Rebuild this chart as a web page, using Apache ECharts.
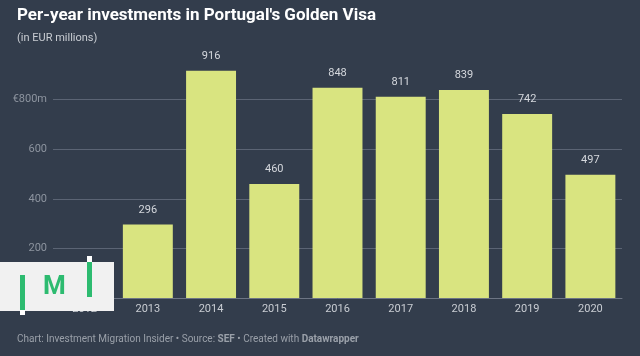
<!DOCTYPE html>
<html><head><meta charset="utf-8">
<script src="https://cdn.jsdelivr.net/npm/echarts@6/dist/echarts.min.js"></script>
<style>html,body{margin:0;padding:0;background:#333d4c;}#c{width:640px;height:356px;}</style>
</head><body><div id="c"></div>
<script>
const years = ['2012','2013','2014','2015','2016','2017','2018','2019','2020'];
const investments = [2, 296, 916, 460, 848, 811, 839, 742, 497];
const yTicks = [0, 200, 400, 600, 800];

const chart = echarts.init(document.getElementById('c'), null, {renderer:'canvas'});
const F = 'Roboto, sans-serif';
chart.setOption({
  backgroundColor: '#333d4c',
  animation: false,
  title: [
    {text: "Per-year investments in Portugal's Golden Visa", left: 17, top: 7, padding: 0,
     textStyle: {color: '#ffffff', fontFamily: F, fontWeight: 'bold', fontSize: 17}},
    {text: '(in EUR millions)', left: 17, top: 33, padding: 0,
     textStyle: {color: '#c9cdd3', fontFamily: F, fontWeight: 'normal', fontSize: 11}}
  ],
  grid: {left: 53, right: 18, top: 50, bottom: 58, containLabel: false},
  xAxis: {
    type: 'category', data: years,
    axisLine: {show: true, lineStyle: {color: '#6d7584', width: 1}},
    axisTick: {show: false},
    axisLabel: {color: '#c9cdd3', fontFamily: F, fontSize: 11, margin: 6}
  },
  yAxis: {
    type: 'value', min: 0, max: 1000, interval: 200,
    axisLine: {show: false}, axisTick: {show: false},
    splitLine: {showMaxLine: false, lineStyle: {color: '#5b6474', width: 1}},
    axisLabel: {color: '#8d949f', fontFamily: F, fontSize: 11, margin: 6, showMaxLabel: false,
      formatter: v => (v === 0 || v > yTicks[yTicks.length-1] ? '' : (v === yTicks[yTicks.length-1] ? '€' + v + 'm' : String(v)))}
  },
  series: [{
    type: 'bar', data: investments, barCategoryGap: '21%',
    itemStyle: {color: '#d9e480'},
    label: {show: true, position: 'top', distance: 9, color: '#d5d8dd', fontFamily: F, fontSize: 11}
  }],
  graphic: [
    {type: 'rect', shape: {x: 0, y: 262, width: 114, height: 49}, style: {fill: '#f1f1f1'}, z: 100},
    {type: 'rect', shape: {x: 20, y: 275, width: 5, height: 37}, style: {fill: '#2dbb70'}, z: 101},
    {type: 'rect', shape: {x: 20, y: 310, width: 5, height: 5}, style: {fill: '#ffffff'}, z: 101},
    {type: 'rect', shape: {x: 87, y: 262, width: 5, height: 35}, style: {fill: '#2dbb70'}, z: 101},
    {type: 'rect', shape: {x: 87, y: 256, width: 5, height: 6}, style: {fill: '#ffffff'}, z: 101},
    {type: 'text', left: 43, top: 274, style: {text: 'M', fill: '#2dbb70', font: 'bold 26px Roboto, sans-serif'}, z: 101},
    {type: 'text', left: 17, top: 334, style: {
      text: '{n|Chart: Investment Migration Insider • Source: }{b|SEF}{n| • Created with }{b|Datawrapper}',
      rich: {n: {fill: '#9aa0a9', font: '10px Roboto, sans-serif'}, b: {fill: '#9aa0a9', font: 'bold 10px Roboto, sans-serif'}}
    }}
  ]
});
</script></body></html>
